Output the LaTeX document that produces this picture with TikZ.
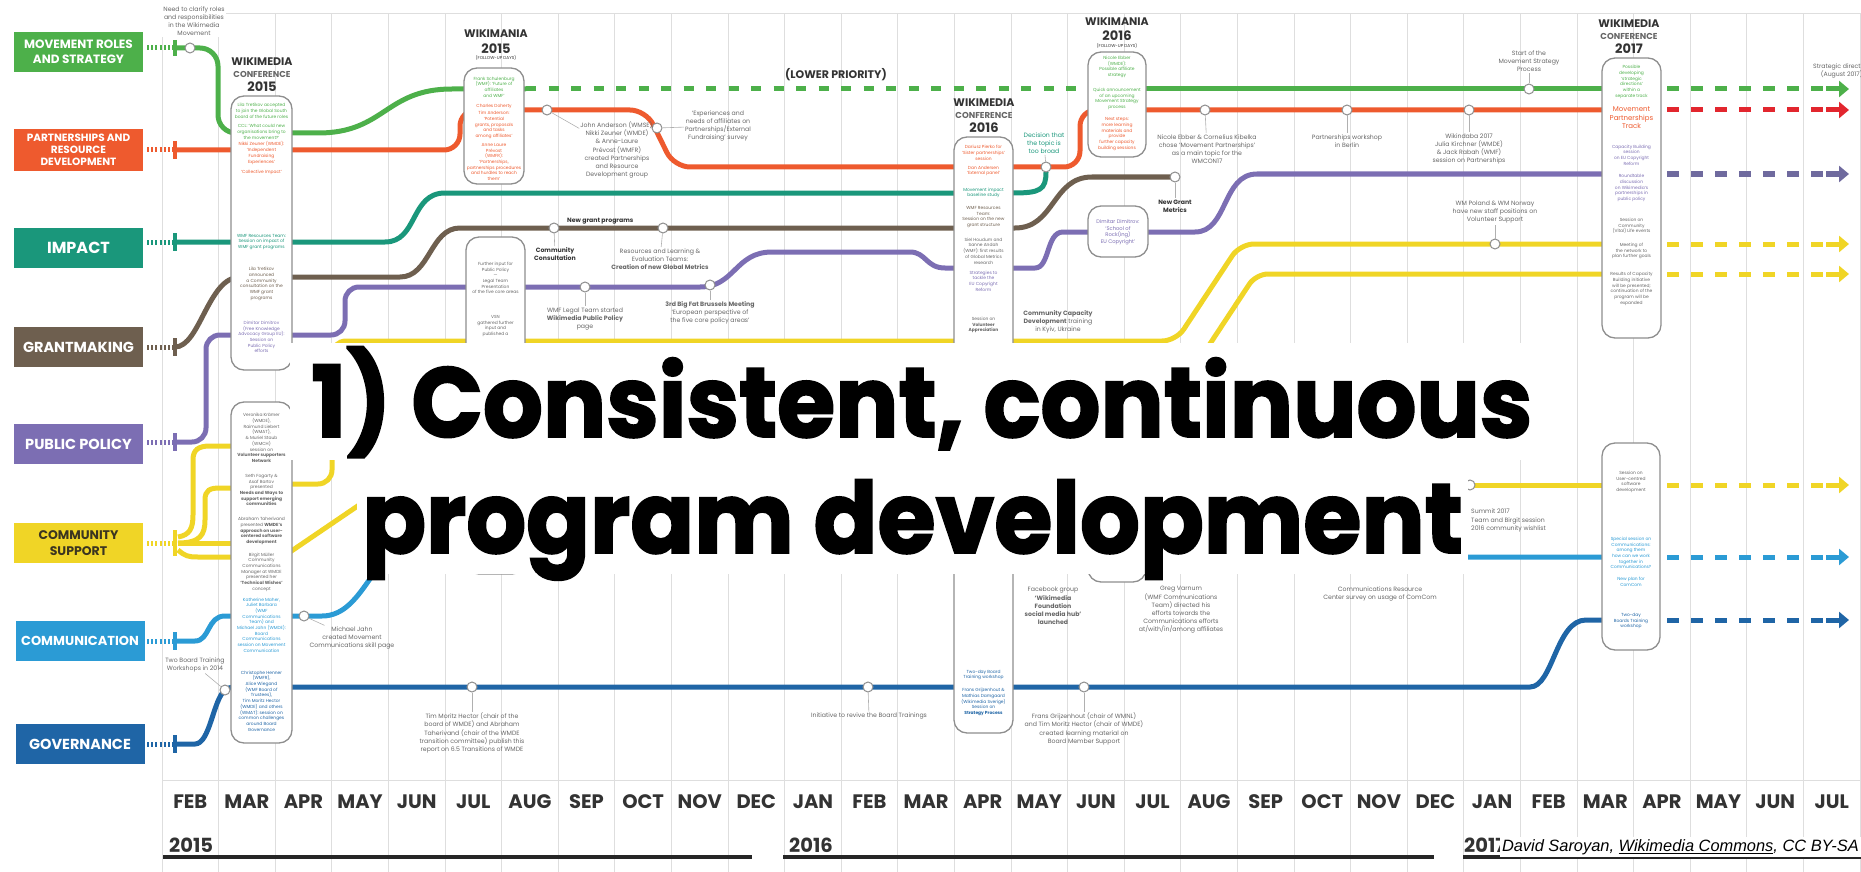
\documentclass[tikz,border=0pt]{standalone}
\usepackage{fontspec}
\setmainfont{Poppins}
\newfontfamily\titlefont{Poppins}[BoldFeatures={FakeBold=2}]
\newfontfamily\creditfont{Liberation Sans}
\usepackage{xcolor}
\usetikzlibrary{arrows.meta, positioning}

\definecolor{cMove}{HTML}{4DB04A}
\definecolor{cPart}{HTML}{EE5A2E}
\definecolor{cRed}{HTML}{E2262E}
\definecolor{cImpact}{HTML}{1A977B}
\definecolor{cGrant}{HTML}{6E5F4F}
\definecolor{cPolicy}{HTML}{7C6EB3}
\definecolor{cPolicyDash}{HTML}{6F6A9E}
\definecolor{cSupport}{HTML}{F0D526}
\definecolor{cSupportText}{HTML}{3B3520}
\definecolor{cComm}{HTML}{2B9BD5}
\definecolor{cGov}{HTML}{1F65A6}
\definecolor{cGrid}{HTML}{DEDEDE}
\definecolor{cRing}{HTML}{8E8E8E}
\definecolor{cNote}{HTML}{666666}
\definecolor{cDark}{HTML}{333333}

\tikzset{
  team/.style={fill=#1, text=white, minimum width=129pt, minimum height=40pt, inner sep=0pt, align=center},
  stub/.style={line width=5pt, dash pattern=on 2pt off 2.2pt},
  teebar/.style={line width=4pt},
  track/.style={line width=5pt},
  lowdash/.style={line width=5pt, dash pattern=on 10pt off 12.5pt},
  later/.style={line width=5pt, dash pattern=on 12pt off 12pt},
  tip/.style={line width=5pt, -{Triangle[length=10pt,width=16pt]}},
  station/.style={circle, draw=cRing, fill=white, line width=1pt, minimum size=10pt, inner sep=0pt},
  event/.style={draw=cRing, fill=white, line width=1.3pt, rounded corners=13pt, inner sep=0pt},
  evbig/.style={font=\bfseries\fontsize{11}{12}\selectfont, text=cDark, inner sep=0pt},
  evmid/.style={font=\bfseries\fontsize{8.6}{9}\selectfont, text=black!60, inner sep=0pt},
  evyear/.style={font=\bfseries\fontsize{13}{13}\selectfont, text=cDark, inner sep=0pt},
  evsmall/.style={font=\fontsize{4.3}{5}\selectfont, text=cDark, inner sep=0pt},
  inbox/.style={font=\fontsize{4.4}{5.7}\selectfont, align=center, inner sep=0pt, text=cNote},
  note/.style={font=\fontsize{6.2}{8.2}\selectfont, align=center, inner sep=1pt, text=cNote},
  leader/.style={draw=cRing!70, line width=0.6pt},
  month/.style={font=\bfseries\fontsize{19.5}{20}\selectfont, text=cDark, inner sep=0pt},
  headline/.style={anchor=base west, inner sep=0pt, font=\titlefont\bfseries\fontsize{99}{99}\selectfont},
  yearbar/.style={line width=4.5pt, draw=black!85},
  grid/.style={draw=cGrid, line width=1pt}
}

\begin{document}
\begin{tikzpicture}[x=1pt, y=-1pt]
\useasboundingbox (0,0) rectangle (1861,872);

%%% GRID
\foreach \k in {0,...,30}
  \draw[grid] ({162+56.6*\k},14) -- ({162+56.6*\k},872);
\draw[grid] (162,14) -- (1861,14);
\draw[grid] (162,780) -- (1861,780);

%%% MONTHS AND YEARS
\foreach \m [count=\i from 0] in {FEB,MAR,APR,MAY,JUN,JUL,AUG,SEP,OCT,NOV,DEC,JAN,FEB,MAR,APR,MAY,JUN,JUL,AUG,SEP,OCT,NOV,DEC,JAN,FEB,MAR,APR,MAY,JUN,JUL}
  \node[month] (m\i) at ({190.3+56.6*\i},802) {\m};
\node[month, anchor=west] (y2015) at (169,845) {2015};
\node[month, anchor=west] (y2016) at (789,845) {2016};
\node[month, anchor=west] (y2017) at (1464,845) {2017};
\draw[yearbar] (163,857) -- (752,857);
\draw[yearbar] (783,857) -- (1434,857);
\draw[yearbar] (1463,857) -- (1861,857);

%%% TEAMS
\node[team=cMove, font=\bfseries\fontsize{12}{14.5}\selectfont] (move) at (78.5,52) {MOVEMENT ROLES\\AND STRATEGY};
\node[team=cPart, minimum height=42pt, font=\bfseries\fontsize{10.5}{12}\selectfont] (part) at (78.5,150) {PARTNERSHIPS AND\\RESOURCE\\DEVELOPMENT};
\node[team=cImpact, font=\bfseries\fontsize{16}{18}\selectfont] (impact) at (78.5,248) {IMPACT};
\node[team=cGrant, font=\bfseries\fontsize{14.5}{17}\selectfont] (grant) at (78.5,347) {GRANTMAKING};
\node[team=cPolicy, font=\bfseries\fontsize{14.5}{17}\selectfont] (policy) at (78.5,444) {PUBLIC POLICY};
\node[team=cSupport, text=cSupportText, font=\bfseries\fontsize{12.5}{15.5}\selectfont] (support) at (78.5,543) {COMMUNITY\\SUPPORT};
\node[team=cComm, font=\bfseries\fontsize{13}{15}\selectfont] (comm) at (80,641) {COMMUNICATION};
\node[team=cGov, font=\bfseries\fontsize{14.5}{17}\selectfont] (gov) at (80,744) {GOVERNANCE};

%%% STUBS
\foreach \name/\col/\y/\h in {move/cMove/48/8, part/cPart/150/9, impact/cImpact/242/9, grant/cGrant/347/9,
    policy/cPolicy/442/9, support/cSupport/543/13, comm/cComm/641/9, gov/cGov/744/9}{
  \coordinate (\name-s) at (147,\y);
  \coordinate (\name-t) at (175,\y);
  \draw[stub, \col] (\name-s) -- (\name-t);
  \draw[teebar, \col] ([yshift=\h pt]\name-t) -- ([yshift=-\h pt]\name-t);
}

%%% MOVEMENT ROLES AND STRATEGY
\draw[track, cMove, rounded corners=18pt] (move-t) -- (218,48) -- (218,133) -- (300,133)
  .. controls (385,133) and (385,89) .. (470,89) -- (526,89);
\draw[lowdash, cMove] (526,89) -- (1090,89);
\draw[track, cMove] (1090,89) -- (1605,89);
\draw[later, cMove] (1667,89) -- (1826,89);
\draw[tip, cMove] (1826,89) -- (1849,89);

%%% PARTNERSHIPS
\draw[track, cPart, rounded corners=16pt] (part-t) -- (460,150) -- (460,110) -- (646,110)
  -- (674,167) -- (1080,167) -- (1080,110) -- (1605,110);
\draw[later, cRed] (1667,110) -- (1826,110);
\draw[tip, cRed] (1826,110) -- (1849,110);

%%% IMPACT
\draw[track, cImpact] (impact-t) -- (385,242) .. controls (418,242) and (410,193) .. (445,193)
  -- (1013,193) .. controls (1040,193) and (1046,190) .. (1046,172);

%%% GRANTMAKING
\draw[track, cGrant] (grant-t) .. controls (200,347) and (208,277) .. (240,277) -- (400,277)
  .. controls (430,277) and (430,228) .. (460,228) -- (1015,228)
  .. controls (1055,228) and (1052,177) .. (1092,177) -- (1175,177);

%%% PUBLIC POLICY
\draw[track, cPolicy, rounded corners=14pt] (policy-t) -- (206,442) -- (206,335) -- (345,335) -- (345,287) -- (700,287);
\draw[track, cPolicy] (700,287) .. controls (735,287) and (735,252) .. (772,252) -- (910,252)
  .. controls (926,252) and (926,268) .. (945,268) -- (1035,268)
  .. controls (1050,268) and (1046,232) .. (1063,232) -- (1195,232)
  .. controls (1228,232) and (1222,174) .. (1257,174) -- (1605,174);
\draw[later, cPolicyDash] (1667,174) -- (1826,174);
\draw[tip, cPolicyDash] (1826,174) -- (1849,174);

%%% COMMUNITY SUPPORT
\draw[track, cSupport] (178,537) .. controls (190,535) and (193,528) .. (193,515) -- (193,460)
  .. controls (193,450) and (198,446) .. (210,446) -- (236,446);
\draw[track, cSupport] (178,543) .. controls (200,543) and (205,535) .. (205,520) -- (205,500)
  .. controls (205,490) and (210,488) .. (220,488) -- (236,488);
\draw[track, cSupport] (178,543) -- (236,543);
\draw[track, cSupport] (178,550) .. controls (185,556) and (188,557) .. (198,557) -- (236,557);
\draw[track, cSupport, rounded corners=14pt] (290,484) -- (332,484) -- (332,341) -- (1176,341) -- (1240,244) -- (1605,244);
\draw[track, cSupport, rounded corners=12pt] (1198,362) -- (1256,274) -- (1605,274);
\draw[track, cSupport] (290,552) -- (390,484);
\draw[track, cSupport] (1470,485) -- (1605,485);
\foreach \y in {244,274,485}{
  \draw[later, cSupport] (1667,\y) -- (1826,\y);
  \draw[tip, cSupport] (1826,\y) -- (1849,\y);
}

%%% COMMUNICATION
\draw[track, cComm] (comm-t) -- (195,641) .. controls (210,641) and (207,616) .. (225,616) -- (322,616)
  .. controls (345,616) and (358,596) .. (372,576) -- (385,557) -- (1605,557);
\draw[later, cComm] (1667,557) -- (1826,557);
\draw[tip, cComm] (1826,557) -- (1849,557);

%%% GOVERNANCE
\draw[track, cGov] (gov-t) -- (195,744) .. controls (210,744) and (213,700) .. (225,690)
  .. controls (229,687) and (233,687) .. (240,687) -- (1530,687)
  .. controls (1553,687) and (1556,620) .. (1586,620) -- (1605,620);
\draw[later, cGov] (1667,620) -- (1826,620);
\draw[tip, cGov] (1826,620) -- (1849,620);

%%% STATIONS
\node[station] (s-need) at (190,48) {};
\node[station] (s-anders) at (547,110) {};
\node[station] (s-survey) at (657,128) {};
\node[station] (s-newgrant) at (554,228) {};
\node[station] (s-metrics) at (663,228) {};
\node[station] (s-legal) at (585,287) {};
\node[station] (s-brussels) at (710,285) {};
\node[station] (s-decision) at (1046,167) {};
\node[station] (s-nicole) at (1205,110) {};
\node[station] (s-newmetrics) at (1175,177) {};
\node[station] (s-berlin) at (1347,110) {};
\node[station] (s-indaba) at (1469,110) {};
\node[station] (s-strategy) at (1529,89) {};
\node[station] (s-poland) at (1495,244) {};
\node[station] (s-summit) at (1470,485) {};
\node[station] (s-jahn) at (304,616) {};
\node[station] (s-twoboard) at (225,690) {};
\node[station] (s-tim) at (472,687) {};
\node[station] (s-revive) at (868,687) {};
\node[station] (s-frans) at (1084,687) {};

%%% EVENTS
\node[event, minimum width=61pt, minimum height=274pt] (wmcon15a) at (261.5,233) {};
\node[event, minimum width=61pt, minimum height=341pt] (wmcon15b) at (261.5,572.5) {};
\node[event, minimum width=60pt, minimum height=116pt] (wm15a) at (494,126) {};
\node[event, minimum width=59pt, minimum height=337pt] (wm15b) at (495.5,405.5) {};
\node[event, minimum width=59pt, minimum height=596pt] (wmcon16) at (983.5,435) {};
\node[event, minimum width=58pt, minimum height=105pt] (wm16a) at (1117,104.5) {};
\node[event, minimum width=60pt, minimum height=51pt] (wm16b) at (1118,231.5) {};
\node[event, minimum width=58pt, minimum height=232pt] (wm16c) at (1117,466) {};
\node[event, minimum width=59pt, minimum height=280pt] (wmcon17a) at (1631.5,198) {};
\node[event, minimum width=58pt, minimum height=207pt] (wmcon17b) at (1631,546.5) {};

\node[evbig] (t15a) at (262,62) {WIKIMEDIA};
\node[evmid] (t15b) at (262,74) {CONFERENCE};
\node[evyear] (t15c) at (262,87) {2015};
\node[evbig] (tw15a) at (496,34) {WIKIMANIA};
\node[evyear] (tw15b) at (496,49) {2015};
\node[evsmall] (tw15c) at (496,58) {(FOLLOW-UP DAYS)};
\node[evbig] (t16a) at (984,103) {WIKIMEDIA};
\node[evmid] (t16b) at (984,115) {CONFERENCE};
\node[evyear] (t16c) at (984,128) {2016};
\node[evbig] (tw16a) at (1117,22) {WIKIMANIA};
\node[evyear] (tw16b) at (1117,36) {2016};
\node[evsmall] (tw16c) at (1117,46) {(FOLLOW-UP DAYS)};
\node[evbig] (t17a) at (1629,24) {WIKIMEDIA};
\node[evmid] (t17b) at (1629,36) {CONFERENCE};
\node[evyear] (t17c) at (1629,49) {2017};
\node[font=\bfseries\fontsize{11}{12}\selectfont, text=cDark] (lowprio) at (836,75) {(LOWER PRIORITY)};

%%% EVENT CONTENTS
\node[inbox, text=cMove] (b1) at (261.5,111) {Lila Tretikov accepted\\to join the Global South\\board of the future roles};
\node[inbox, text=cMove] (b2) at (261.5,132) {CCL: `What could new\\organisations bring to\\the movement?'};
\node[inbox, text=cPart] (b3) at (261.5,153) {Nikki Zeuner (WMDE):\\`Independent\\Fundraising\\Experiences'};
\node[inbox, text=cPart] (b4) at (261.5,172) {`Collective Impact'};
\node[inbox, text=cImpact] (b5) at (261.5,242) {WMF Resources Team:\\Session on impact of\\WMF grant programs};
\node[inbox, text=cGrant] (b6) at (261.5,284) {Lila Tretikov\\announced\\a Community\\consultation on the\\WMF grant\\programs};
\node[inbox, text=cPolicy] (b7) at (261.5,337) {Dimitar Dimitrov\\(Free Knowledge\\Advocacy Group EU):\\Session on\\Public Policy\\efforts};
\node[inbox] (b8) at (261.5,438) {Veronika Krämer\\(WMDE),\\Raimund Liebert\\(WMAT),\\\& Muriel Staub\\(WMCH)\\session on\\\textbf{Volunteer supporters}\\\textbf{Network}};
\node[inbox] (b9) at (261.5,490) {Seth Fogarty \&\\Asaf Bartov\\presented\\\textbf{Needs and Ways to}\\\textbf{support emerging}\\\textbf{communities}};
\node[inbox] (b10) at (261.5,531) {Abraham Taherivand\\presented \textbf{WMDE's}\\\textbf{approach on user-}\\\textbf{centered software}\\\textbf{development}};
\node[inbox] (b11) at (261.5,572) {Birgit Müller\\Community\\Communications\\Manager at WMDE\\presented her\\\textbf{`Technical Wishes'}\\concept};
\node[inbox, text=cComm] (b12) at (261.5,625) {Katherine Maher,\\Juliet Barbara\\(WMF\\Communications\\Team) and\\Michael Jahn (WMDE):\\Board\\Communications\\session on Movement\\Communication};
\node[inbox, text=cGov] (b13) at (261.5,701) {Christophe Henner\\(WMFR),\\Alice Wiegand\\(WMF Board of\\Trustees),\\Tim Moritz Hector\\(WMDE) and others\\(WMAT): session on\\common challenges\\around Board\\Governance};
\node[inbox, text=cMove] (b14) at (494,87) {Frank Schulenburg\\(WMF): `Future of\\affiliates\\and WMF'};
\node[inbox, text=cPart] (b15) at (494,106) {Charles Doherty};
\node[inbox, text=cPart] (b16) at (494,125) {Tim Anderson:\\`Potential\\grants, proposals\\and tasks\\among affiliates'};
\node[inbox, text=cPart] (b17) at (494,162) {Anne Laure\\Prévost\\(WMFR):\\`Partnerships,\\partnerships procedures\\and hurdles to reach\\them'};
\node[inbox] (b18) at (495.5,278) {Further input for\\Public Policy\\---\\Legal Team\\Presentation\\of the five core areas};
\node[inbox] (b19) at (495.5,326) {VSN\\gathered further\\input and\\published a};
\node[inbox, text=cPart] (b20) at (983.5,153) {Dariusz Pierko for\\`Sister partnerships'\\session};
\node[inbox, text=cPart] (b21) at (983.5,171) {Dan Andersen\\`External panel'};
\node[inbox, text=cImpact] (b22) at (983.5,193) {Movement impact\\baseline study};
\node[inbox, text=cGrant] (b23) at (983.5,217) {WMF Resources\\Team:\\Session on the new\\grant structure};
\node[inbox] (b24) at (983.5,251) {Siel Houdum and\\Sanne Andah\\(WMF): first results\\of Global Metrics\\research};
\node[inbox, text=cPolicy] (b25) at (983.5,281) {Strategies to\\tackle the\\EU Copyright\\Reform};
\node[inbox] (b26) at (983.5,325) {Session on\\\textbf{Volunteer}\\\textbf{Appreciation}};
\node[inbox, text=cGov] (b27) at (983.5,675) {Two-day Board\\Training workshop};
\node[inbox, text=cGov] (b28) at (983.5,702) {Frans Grijzenhout \&\\Mathias Damgaard\\(Wikimedia Sverige)\\Session on\\\textbf{Strategy Process}};
\node[inbox, text=cMove] (b29) at (1117,67) {Nicole Ebber\\(WMDE):\\Possible affiliate\\strategy};
\node[inbox, text=cMove] (b30) at (1117,99) {Quick announcement\\of an upcoming\\Movement Strategy\\process};
\node[inbox, text=cPart] (b31) at (1117,134) {Next steps:\\more learning\\materials and\\provide\\further capacity\\building sessions};
\node[inbox, text=cPolicy, font=\fontsize{5.2}{6.5}\selectfont] (b32) at (1118,232) {Dimitar Dimitrov:\\`School of\\Rock(ing)\\EU Copyright'};
\node[inbox, text=cMove] (b33) at (1631.5,82) {Possible\\developing\\`strategic\\directions'\\within a\\separate track};
\node[inbox, text=cPart, font=\fontsize{7}{8.4}\selectfont] (b34) at (1631.5,118) {Movement\\Partnerships\\Track};
\node[inbox, text=cPolicy] (b35) at (1631.5,155) {Capacity Building\\session\\on EU Copyright\\Reform};
\node[inbox, text=cPolicy] (b36) at (1631.5,188) {Roundtable\\discussion\\on Wikimedia's\\partnerships in\\public policy};
\node[inbox] (b37) at (1631.5,226) {Session on\\Community\\(Vital) Life events};
\node[inbox] (b38) at (1631.5,251) {Meeting of\\the network to\\plan further goals};
\node[inbox] (b39) at (1631.5,289) {Results of Capacity\\Building initiative\\will be presented;\\continuation of the\\program will be\\expanded};
\node[inbox] (b40) at (1631,482) {Session on\\User-centred\\software\\development};
\node[inbox, text=cComm] (b41) at (1631,553) {Special session on\\Communications:\\among them\\how can we work\\together in\\Communications?};
\node[inbox, text=cComm] (b42) at (1631,582) {New plan for\\ComCom};
\node[inbox, text=cGov] (b43) at (1631,621) {Two-day\\Boards Training\\workshop};

%%% NOTES
\node[note, fill=white] (n-need) at (194,21) {Need to clarify roles\\and responsibilities\\in the Wikimedia\\Movement};
\node[note] (n-anders) at (617,150) {John Anderson (WMSE),\\Nikki Zeuner (WMDE)\\\& Anne-Laure\\Prévost (WMFR)\\created Partnerships\\and Resource\\Development group};
\node[note] (n-survey) at (718,126) {`Experiences and\\needs of affiliates on\\Partnerships/External\\Fundraising' survey};
\node[note, anchor=base west, text=cDark, font=\bfseries\fontsize{6.2}{8.2}\selectfont] (n-newgrant) at (566,222) {New grant programs};
\node[note, text=cDark, font=\bfseries\fontsize{6.2}{8.2}\selectfont] (n-consult) at (555,254) {Community\\Consultation};
\node[note] (n-metrics) at (660,259) {Resources and Learning \&\\Evaluation Teams:\\\textbf{Creation of new Global Metrics}};
\node[note] (n-legal) at (585,319) {WMF Legal Team started\\\textbf{Wikimedia Public Policy}\\page};
\node[note] (n-brussels) at (710,313) {\textbf{3rd Big Fat Brussels Meeting}\\`European perspective of\\the five core policy areas'};
\node[note, text=cImpact] (n-decision) at (1044,143) {Decision that\\the topic is\\too broad};
\node[note] (n-nicole) at (1207,149) {Nicole Ebber \& Cornelius Kibelka\\chose `Movement Partnerships'\\as a main topic for the\\WMCON17};
\node[note, text=cDark] (n-newmetrics) at (1175,206) {\textbf{New Grant}\\\textbf{Metrics}};
\node[note] (n-berlin) at (1347,141) {Partnerships workshop\\in Berlin};
\node[note] (n-indaba) at (1469,149) {Wikindaba 2017\\Julia Kirchner (WMDE)\\\& Jack Rabah (WMF)\\session on Partnerships};
\node[note] (n-strategy) at (1529,61) {Start of the\\Movement Strategy\\Process};
\node[note, anchor=west] (n-direction) at (1812,71) {Strategic direction\\(August 2017)};
\node[note] (n-poland) at (1495,212) {WM Poland \& WM Norway\\have new staff positions on\\Volunteer Support};
\node[note] (n-kyiv) at (1058,322) {\textbf{Community Capacity}\\\textbf{Development} training\\in Kyiv, Ukraine};
\node[note] (n-facebook) at (1053,606) {Facebook group\\\textbf{`Wikimedia}\\\textbf{Foundation}\\\textbf{social media hub'}\\\textbf{launched}};
\node[note] (n-greg) at (1181,610) {Greg Varnum\\(WMF Communications\\Team) directed his\\efforts towards the\\Communications efforts\\at/with/in/among affiliates};
\node[note] (n-revive) at (869,716) {Initiative to revive the Board Trainings};
\node[note] (n-frans) at (1084,729) {Frans Grijzenhout (chair of WMNL)\\and Tim Moritz Hector (chair of WMDE)\\created learning material on\\Board Member Support};
\node[note] (n-tim) at (472,733) {Tim Moritz Hector (chair of the\\board of WMDE) and Abraham\\Taherivand (chair of the WMDE\\transition committee) publish this\\report on 6.5 Transitions of WMDE};
\node[note] (n-jahn) at (352,638) {Michael Jahn\\created Movement\\Communications skill page};
\node[note] (n-twoboard) at (195,665) {Two Board Training\\Workshops in 2014};
\node[note] (n-comcom) at (1380,594) {Communications Resource\\Center survey on usage of ComCom};
\node[note, anchor=north west, align=left] (n-summit) at (1470,508) {Summit 2017\\Team and Birgit session\\2016 community wishlist};

%%% LEADERS
\draw[leader] (s-anders) -- (n-anders);
\draw[leader] (s-survey) -- (n-survey);
\draw[leader] (s-newgrant) -- (n-consult);
\draw[leader] (s-metrics) -- (n-metrics);
\draw[leader] (s-legal) -- (n-legal);
\draw[leader] (s-brussels) -- (n-brussels);
\draw[leader] (s-decision) -- (n-decision);
\draw[leader] (s-nicole) -- (n-nicole);
\draw[leader] (s-newmetrics) -- (n-newmetrics);
\draw[leader] (s-berlin) -- (n-berlin);
\draw[leader] (s-indaba) -- (n-indaba);
\draw[leader] (s-strategy) -- (n-strategy);
\draw[leader] (s-poland) -- (n-poland);
\draw[leader] (s-revive) -- (n-revive);
\draw[leader] (s-frans) -- (n-frans);
\draw[leader] (s-tim) -- (n-tim);
\draw[leader] (s-jahn) -- (n-jahn);
\draw[leader] (s-twoboard) -- (n-twoboard);

%%% BANNER
\fill[white] (290,343) rectangle (1533,460);
\fill[white] (357,459) rectangle (1468,574);
\node[headline] (title1) at (311,437) {\scalebox{0.95}[1]{1) Consistent, continuous}};
\node[headline] (title2) at (362,553) {\scalebox{0.95}[1]{program development}};

%%% CREDIT
\node[anchor=east, fill=white, inner sep=2pt, font=\creditfont\itshape\fontsize{16.4}{17}\selectfont] (credit) at (1861,847) {David Saroyan, \underline{Wikimedia Commons}, CC BY-SA};
\end{tikzpicture}
\end{document}
